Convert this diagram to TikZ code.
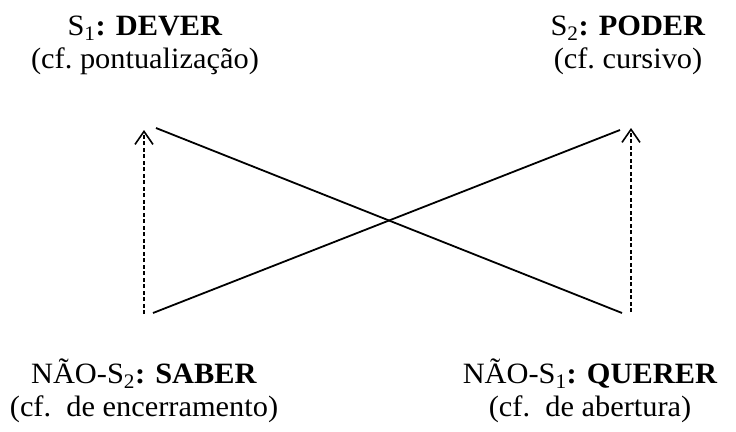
\documentclass[tikz,border=0pt]{standalone}
\usepackage{fontspec}
\setmainfont{Liberation Serif}[FakeStretch=1.03]
\usetikzlibrary{arrows.meta}
\begin{document}
\begin{tikzpicture}[x=1pt,y=-1pt,
  lab/.style={align=center,anchor=base,inner sep=0pt,font=\fontsize{29.5}{32.5}\selectfont},
  dash arrow/.style={line width=1.5pt,dash pattern=on 4pt off 2.5pt,-{Straight Barb[length=13pt,width=18pt,line width=1.6pt]}},
  cross/.style={line width=1.8pt}]
\useasboundingbox (0,0) rectangle (736,431);
\node[lab] (s1) at (145,68) {S\textsubscript{1}\textbf{: DEVER}\\(cf.\ pontualização)};
\node[lab] (s2) at (628,68) {S\textsubscript{2}\textbf{: PODER}\\(cf.\ cursivo)};
\node[lab] (ns2) at (144,416) {NÃO-S\textsubscript{2}\textbf{: SABER}\\(cf.\ \ de encerramento)};
\node[lab] (ns1) at (590,416) {NÃO-S\textsubscript{1}\textbf{: QUERER}\\(cf.\ \ de abertura)};
\coordinate (la0) at (144,314);
\coordinate (la1) at (144,130);
\coordinate (ra0) at (631,312);
\coordinate (ra1) at (631,128);
\coordinate (c1a) at (156,128);
\coordinate (c1b) at (622,313);
\coordinate (c2a) at (153,313);
\coordinate (c2b) at (620,130);
\draw[dash arrow] (la0) -- (la1);
\draw[dash arrow] (ra0) -- (ra1);
\draw[cross] (c1a) -- (c1b);
\draw[cross] (c2a) -- (c2b);
\end{tikzpicture}
\end{document}
